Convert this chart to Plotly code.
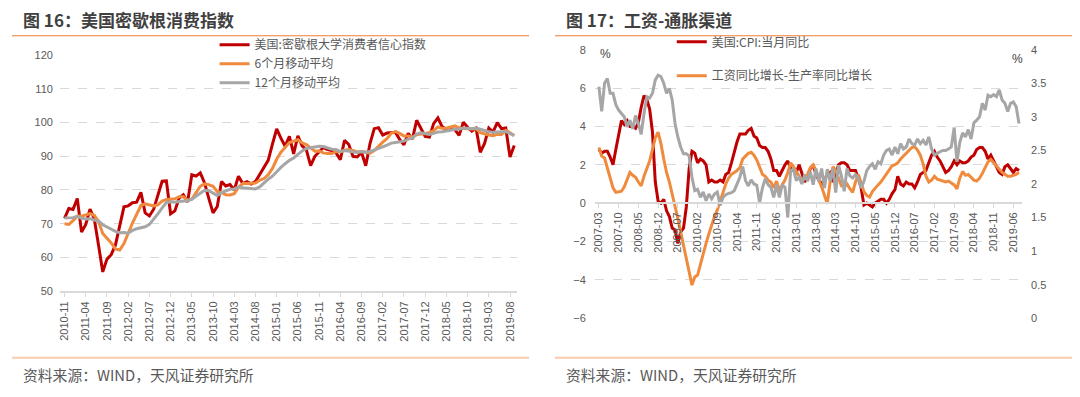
import pandas as pd
import plotly.graph_objects as go

# ---------------- Data: Figure 16 (Michigan consumer sentiment) ----------------
mich_months = list(pd.period_range("2010-11", "2019-09", freq="M").strftime("%Y-%m"))
mich_index = [
    71.6, 74.5,
    74.2, 77.5, 67.5, 69.8, 74.3, 71.5, 63.7, 55.7, 59.5, 60.8, 63.7, 69.9,
    75.0, 75.3, 76.2, 76.4, 79.3, 73.2, 72.3, 74.3, 78.3, 82.6, 82.7, 72.9,
    73.8, 77.6, 78.6, 76.4, 84.5, 84.1, 85.1, 82.1, 77.5, 73.2, 75.1, 82.5,
    81.2, 81.6, 80.0, 84.1, 81.9, 82.5, 81.8, 82.5, 84.6, 86.9, 88.8, 93.6,
    98.1, 95.4, 93.0, 95.9, 90.7, 96.1, 93.1, 91.9, 87.2, 90.0, 91.3, 92.6,
    92.0, 91.7, 91.0, 89.0, 94.7, 93.5, 90.0, 89.8, 91.2, 87.2, 93.8, 98.2,
    98.5, 96.3, 96.9, 97.0, 97.1, 95.0, 93.4, 96.8, 95.1, 100.7, 98.5, 95.9,
    95.7, 99.7, 101.4, 98.8, 98.0, 98.2, 97.9, 96.2, 100.1, 98.6, 97.5, 98.3,
    91.2, 93.8, 98.4, 97.2, 100.0, 98.2, 98.4, 89.8, 93.2,
]
mich_ma6 = [
    70.0, 69.8,
    70.9, 72.3, 72.2, 72.5, 73.0, 72.5, 70.7, 67.1, 65.8, 64.3, 62.5, 62.2,
    64.1, 67.4, 70.2, 72.8, 75.4, 75.9, 75.5, 75.3, 75.6, 76.7, 77.2, 77.2,
    77.4, 78.0, 78.0, 77.0, 77.3, 79.2, 81.1, 81.8, 81.6, 81.1, 79.5, 79.3,
    78.6, 78.5, 78.9, 80.8, 81.9, 81.9, 82.0, 82.1, 82.9, 83.4, 84.5, 86.4,
    89.1, 91.2, 92.6, 94.1, 94.5, 94.9, 94.0, 93.5, 92.5, 91.5, 91.6, 91.0,
    90.8, 90.8, 91.4, 91.3, 91.8, 92.0, 91.7, 91.3, 91.4, 91.1, 90.9, 91.7,
    93.1, 94.2, 95.2, 96.8, 97.3, 96.8, 96.0, 96.0, 95.7, 96.4, 96.6, 96.7,
    97.1, 97.6, 98.7, 98.3, 98.3, 98.6, 99.0, 98.4, 98.2, 98.2, 98.1, 98.1,
    97.0, 96.6, 96.3, 96.1, 96.5, 96.5, 97.7, 97.0, 96.1,
]
mich_ma12 = [
    71.7, 71.8,
    71.8, 72.2, 71.6, 71.4, 71.5, 71.1, 70.8, 69.7, 69.0, 68.4, 67.7, 67.3,
    67.4, 67.2, 68.0, 68.5, 68.9, 69.1, 69.8, 71.3, 72.9, 74.7, 76.3, 76.5,
    76.4, 76.6, 76.8, 76.8, 77.3, 78.2, 79.2, 79.9, 79.8, 79.0, 78.4, 79.2,
    79.8, 80.2, 80.3, 80.9, 80.7, 80.6, 80.3, 80.3, 80.9, 82.1, 83.2, 84.1,
    85.5, 86.7, 87.8, 88.8, 89.5, 90.6, 91.6, 92.3, 92.6, 92.8, 93.0, 92.9,
    92.4, 92.1, 92.0, 91.4, 91.7, 91.5, 91.2, 91.1, 91.4, 91.2, 91.4, 91.8,
    92.4, 92.8, 93.3, 93.9, 94.1, 94.3, 94.5, 95.1, 95.4, 96.6, 97.0, 96.8,
    96.5, 96.8, 97.2, 97.3, 97.4, 97.7, 98.1, 98.0, 98.4, 98.3, 98.2, 98.4,
    98.0, 97.5, 97.3, 97.1, 97.3, 97.3, 97.3, 96.8, 96.2,
]
mich_ticks = ["2010-11", "2011-04", "2011-09", "2012-02", "2012-07", "2012-12",
              "2013-05", "2013-10", "2014-03", "2014-08", "2015-01", "2015-06",
              "2015-11", "2016-04", "2016-09", "2017-02", "2017-07", "2017-12",
              "2018-05", "2018-10", "2019-03", "2019-08"]
mich_yticks = [50, 60, 70, 80, 90, 100, 110, 120]

# ---------------- Data: Figure 17 (wage - inflation channel) ----------------
wage_months = list(pd.period_range("2007-03", "2019-08", freq="M").strftime("%Y-%m"))
us_cpi_yoy = [
    2.8, 2.6, 2.7, 2.7, 2.4, 2.0, 2.8, 3.5, 4.3, 4.1,
    4.3, 4.0, 4.0, 3.9, 4.2, 5.0, 5.6, 5.4, 4.9, 3.7, 1.1, 0.1,
    0.0, 0.2, -0.4, -0.7, -1.3, -1.4, -2.1, -1.5, -1.3, -0.2, 1.8, 2.7,
    2.6, 2.1, 2.3, 2.2, 2.0, 1.1, 1.2, 1.1, 1.1, 1.2, 1.1, 1.5,
    1.6, 2.1, 2.7, 3.2, 3.6, 3.6, 3.6, 3.8, 3.9, 3.5, 3.4, 3.0,
    2.9, 2.9, 2.7, 2.3, 1.7, 1.7, 1.4, 1.7, 2.0, 2.2, 1.8, 1.7,
    1.6, 2.0, 1.5, 1.1, 1.4, 1.8, 2.0, 1.5, 1.2, 1.0, 1.2, 1.5,
    1.6, 1.1, 1.5, 2.0, 2.1, 2.1, 2.0, 1.7, 1.7, 1.7, 1.3, 0.8,
    -0.1, 0.0, -0.1, -0.2, 0.0, 0.1, 0.2, 0.2, 0.0, 0.2, 0.5, 0.7,
    1.4, 1.0, 0.9, 1.1, 1.0, 1.0, 0.8, 1.1, 1.5, 1.6, 1.7, 2.1,
    2.5, 2.7, 2.4, 2.2, 1.9, 1.6, 1.7, 1.9, 2.2, 2.0, 2.2, 2.1,
    2.1, 2.2, 2.4, 2.5, 2.8, 2.9, 2.9, 2.7, 2.3, 2.5, 2.2, 1.9,
    1.6, 1.5, 1.9, 2.0, 1.8, 1.6, 1.8, 1.7,
]
wage_minus_prod = [
    2.9, 2.45, 2.35, 1.8, 1.3, 0.8, 0.56, 0.58, 0.62, 0.85,
    1.2, 1.6, 1.45, 1.35, 1.1, 0.9, 1.4, 1.85, 2.2, 2.8,
    3.4, 3.7, 3.1, 2.3, 1.6, 1.1, 0.5, -0.1, -0.8, -1.5,
    -2.2, -3.0, -3.6, -4.27, -3.85, -3.75, -3.2, -2.6, -2.1, -1.6,
    -1.1, -0.7, -0.35, 0.1, 0.55, 1.0, 1.3, 1.5, 1.6, 1.7,
    1.85, 2.3, 2.45, 2.6, 2.65, 2.5, 2.25, 1.85, 1.5, 1.4,
    1.2, 1.1, 0.8, 1.15, 0.65, 0.95, 1.2, 1.6, 2.1, 1.9,
    1.65, 1.35, 1.15, 1.3, 1.5, 1.85, 2.0, 1.7, 1.2, 0.85,
    0.4, -0.03, 1.1, 1.9, 1.7, 1.3, 0.9, 0.85, 1.0, 0.75,
    0.56, 1.1, 1.5, 1.05, 0.6, 0.4, 0.31, 0.6, 0.8, 0.95,
    1.1, 1.3, 1.5, 1.75, 1.95, 2.0, 2.1, 2.3, 2.45, 2.6,
    2.8, 2.9, 2.94, 2.77, 2.5, 2.05, 1.4, 1.1, 1.2, 1.4,
    1.25, 1.2, 1.15, 1.1, 1.15, 1.05, 0.95, 0.75, 1.3, 1.65,
    1.45, 1.5, 1.35, 1.2, 1.15, 1.3, 1.55, 1.85, 2.15, 2.28,
    2.1, 1.95, 1.75, 1.6, 1.5, 1.4, 1.4, 1.45, 1.5, 1.6,
]
gray_right_axis = [
    3.45, 3.08, 3.5, 3.57, 3.35, 3.35, 3.18, 3.1, 3.05, 3.0,
    2.85, 2.95, 2.82, 3.02, 2.9, 2.74, 3.05, 3.3, 3.28, 3.35,
    3.55, 3.62, 3.6, 3.5, 3.35, 3.42, 3.25, 2.9, 2.7, 2.55,
    2.45, 2.45, 2.42, 2.1, 1.9, 1.92, 1.8, 1.88, 1.75, 1.85,
    1.78, 1.85, 1.88, 1.68, 1.8, 1.84, 1.86, 1.87, 1.9, 2.0,
    2.1, 2.26, 2.05, 1.97, 2.06, 2.0, 1.98, 1.72, 1.94, 2.08,
    1.99, 1.95, 1.8, 1.99, 1.8, 1.98, 1.95, 1.5, 2.2, 2.22,
    2.05, 2.1, 2.0, 2.14, 2.04, 2.18, 1.99, 2.23, 2.04, 2.23,
    1.94, 2.22, 2.04, 2.23, 1.87, 2.28, 2.12, 1.89, 2.23, 2.12,
    2.09, 2.14, 2.08, 1.94, 2.04, 2.2, 2.26, 2.3, 2.22, 2.33,
    2.3, 2.43, 2.5, 2.52, 2.43, 2.55, 2.45, 2.6, 2.52, 2.55,
    2.67, 2.6, 2.58, 2.67, 2.6, 2.65, 2.58, 2.7, 2.52, 2.43,
    2.46, 2.48, 2.5, 2.5, 2.52, 2.55, 2.84, 2.33, 2.62, 2.76,
    2.7, 2.81, 2.67, 2.91, 2.95, 3.0, 3.2, 3.1, 3.32, 3.3,
    3.33, 3.3, 3.4, 3.25, 3.2, 3.08, 3.2, 3.22, 3.15, 2.9,
]
wage_ticks = ["2007-03", "2007-10", "2008-05", "2008-12", "2009-07", "2010-02",
              "2010-09", "2011-04", "2011-11", "2012-06", "2013-01", "2013-08",
              "2014-03", "2014-10", "2015-05", "2015-12", "2016-07", "2017-02",
              "2017-09", "2018-04", "2018-11", "2019-06"]
left_yticks = [-6, -4, -2, 0, 2, 4, 6, 8]
right_yticks = [0, 0.5, 1, 1.5, 2, 2.5, 3, 3.5, 4]
right_yticktext = ["0", "0.5", "1", "1.5", "2", "2.5", "3", "3.5", "4"]

# ---------------- Styling ----------------
W, H = 1080, 397
RED, ORANGE, GRAY = "#C00000", "#F08A3C", "#A6A6A6"
TXT = "#595959"
GRID = "#D9D9D9"
NUMFONT = "Liberation Sans, Noto Sans CJK SC, sans-serif"
CJK = "Noto Sans CJK SC, sans-serif"


def px(x):
    return x / W


def py(y):
    return 1 - y / H


fig = go.Figure()

# Left chart
fig.add_trace(go.Scatter(x=mich_months, y=mich_index, name="美国:密歇根大学消费者信心指数",
                         mode="lines", line=dict(color=RED, width=3), xaxis="x", yaxis="y",
                         legend="legend"))
fig.add_trace(go.Scatter(x=mich_months, y=mich_ma6, name="6个月移动平均",
                         mode="lines", line=dict(color=ORANGE, width=3), xaxis="x", yaxis="y",
                         legend="legend"))
fig.add_trace(go.Scatter(x=mich_months, y=mich_ma12, name="12个月移动平均",
                         mode="lines", line=dict(color=GRAY, width=3), xaxis="x", yaxis="y",
                         legend="legend"))

# Right chart
fig.add_trace(go.Scatter(x=wage_months, y=us_cpi_yoy, name="美国:CPI:当月同比",
                         mode="lines", line=dict(color=RED, width=3), xaxis="x2", yaxis="y2",
                         legend="legend2"))
fig.add_trace(go.Scatter(x=wage_months, y=wage_minus_prod, name="工资同比增长-生产率同比增长",
                         mode="lines", line=dict(color=ORANGE, width=3), xaxis="x2", yaxis="y2",
                         legend="legend3"))
fig.add_trace(go.Scatter(x=wage_months, y=gray_right_axis, name="",
                         mode="lines", line=dict(color=GRAY, width=3), xaxis="x2", yaxis="y3",
                         showlegend=False))

# geometry (pixels)
L_X0, L_X1 = 58, 516
L_Y_TOP, L_Y_BOT = 50.7, 294
R_X0, R_X1 = 594, 1022
R_Y_TOP, R_Y_BOT = 45, 322

axis_common = dict(tickfont=dict(family=NUMFONT, size=11, color=TXT))

y0_frac = (0 - (-6)) / (8 - (-6))
r_dom = [py(R_Y_BOT), py(R_Y_TOP)]
x2_pos = r_dom[0] + (r_dom[1] - r_dom[0]) * y0_frac

fig.update_layout(
    width=W, height=H,
    margin=dict(l=0, r=0, t=0, b=0),
    paper_bgcolor="white", plot_bgcolor="white",
    xaxis=dict(domain=[px(L_X0), px(L_X1)], type="category", range=[-1.1, 106.66],
               tickmode="array", tickvals=mich_ticks, ticktext=mich_ticks, tickangle=-90,
               showgrid=False, showline=True, linecolor=GRID, linewidth=1.5,
               ticks="outside", ticklen=4, tickcolor=GRID, anchor="y", **axis_common),
    yaxis=dict(domain=[py(L_Y_BOT), py(L_Y_TOP)], range=[49.999, 120.001],
               tickmode="array", tickvals=mich_yticks,
               showgrid=True, gridcolor=GRID, griddash="dash", gridwidth=1,
               zeroline=False, showline=False, ticks="", ticklabelstandoff=6,
               anchor="x", **axis_common),
    xaxis2=dict(domain=[px(R_X0), px(R_X1)], type="category", range=[-1.42, 150.1],
                tickmode="array", tickvals=wage_ticks, ticktext=wage_ticks, tickangle=-90,
                showgrid=False, showline=True, linecolor=GRID, linewidth=1.5,
                ticks="outside", ticklen=4, tickcolor=GRID,
                anchor="free", position=x2_pos, **axis_common),
    yaxis2=dict(domain=r_dom, range=[-6.0005, 8.0005],
                tickmode="array", tickvals=left_yticks,
                showgrid=True, gridcolor=GRID, griddash="dash", gridwidth=1,
                zeroline=False, showline=False, ticks="", ticklabelstandoff=8,
                anchor="x2", **axis_common),
    yaxis3=dict(domain=r_dom, range=[-0.00014, 4.00014], overlaying="y2", side="right",
                tickmode="array", tickvals=right_yticks, ticktext=right_yticktext,
                showgrid=False, zeroline=False, showline=False, ticks="",
                ticklabelstandoff=8, anchor="x2", **axis_common),
    legend=dict(x=px(213), y=py(25), xanchor="left", yanchor="top",
                bgcolor="rgba(0,0,0,0)", font=dict(family=CJK, size=12, color=TXT),
                tracegroupgap=0),
    legend2=dict(x=px(671), y=py(22), xanchor="left", yanchor="top",
                 bgcolor="rgba(0,0,0,0)", font=dict(family=CJK, size=12, color=TXT)),
    legend3=dict(x=px(671), y=py(57), xanchor="left", yanchor="top",
                 bgcolor="rgba(0,0,0,0)", font=dict(family=CJK, size=12, color=TXT)),
    showlegend=True,
)

# titles, units and sources
annots = [
    dict(x=px(19), y=py(14), text="<b>图 16：美国密歇根消费指数</b>",
         font=dict(family=CJK, size=17, color="#404040")),
    dict(x=px(563), y=py(14), text="<b>图 17：工资-通胀渠道</b>",
         font=dict(family=CJK, size=17, color="#404040")),
    dict(x=px(19), y=py(380), text="资料来源：WIND，天风证券研究所",
         font=dict(family=CJK, size=14.8, color=TXT)),
    dict(x=px(563), y=py(380), text="资料来源：WIND，天风证券研究所",
         font=dict(family=CJK, size=14.8, color=TXT)),
    dict(x=px(597), y=py(50), text="%", font=dict(family=NUMFONT, size=12, color="#404040")),
    dict(x=px(1010), y=py(55), text="%", font=dict(family=NUMFONT, size=12, color="#404040")),
]
for a in annots:
    fig.add_annotation(xref="paper", yref="paper", xanchor="left", yanchor="middle",
                       showarrow=False, **a)

# separator lines
for (xa, xb) in [(10, 528), (554, 1072)]:
    fig.add_shape(type="line", xref="paper", yref="paper", x0=px(xa), x1=px(xb),
                  y0=py(30.7), y1=py(30.7), line=dict(color="#ED7D31", width=1))
    fig.add_shape(type="line", xref="paper", yref="paper", x0=px(xa), x1=px(xb),
                  y0=py(362.7), y1=py(362.7), line=dict(color="#F8CBAD", width=2))

fig.write_html(
    "out.html",
    config={"displayModeBar": False},
    post_script="document.body.style.margin='0px';document.body.style.overflow='hidden';",
)
